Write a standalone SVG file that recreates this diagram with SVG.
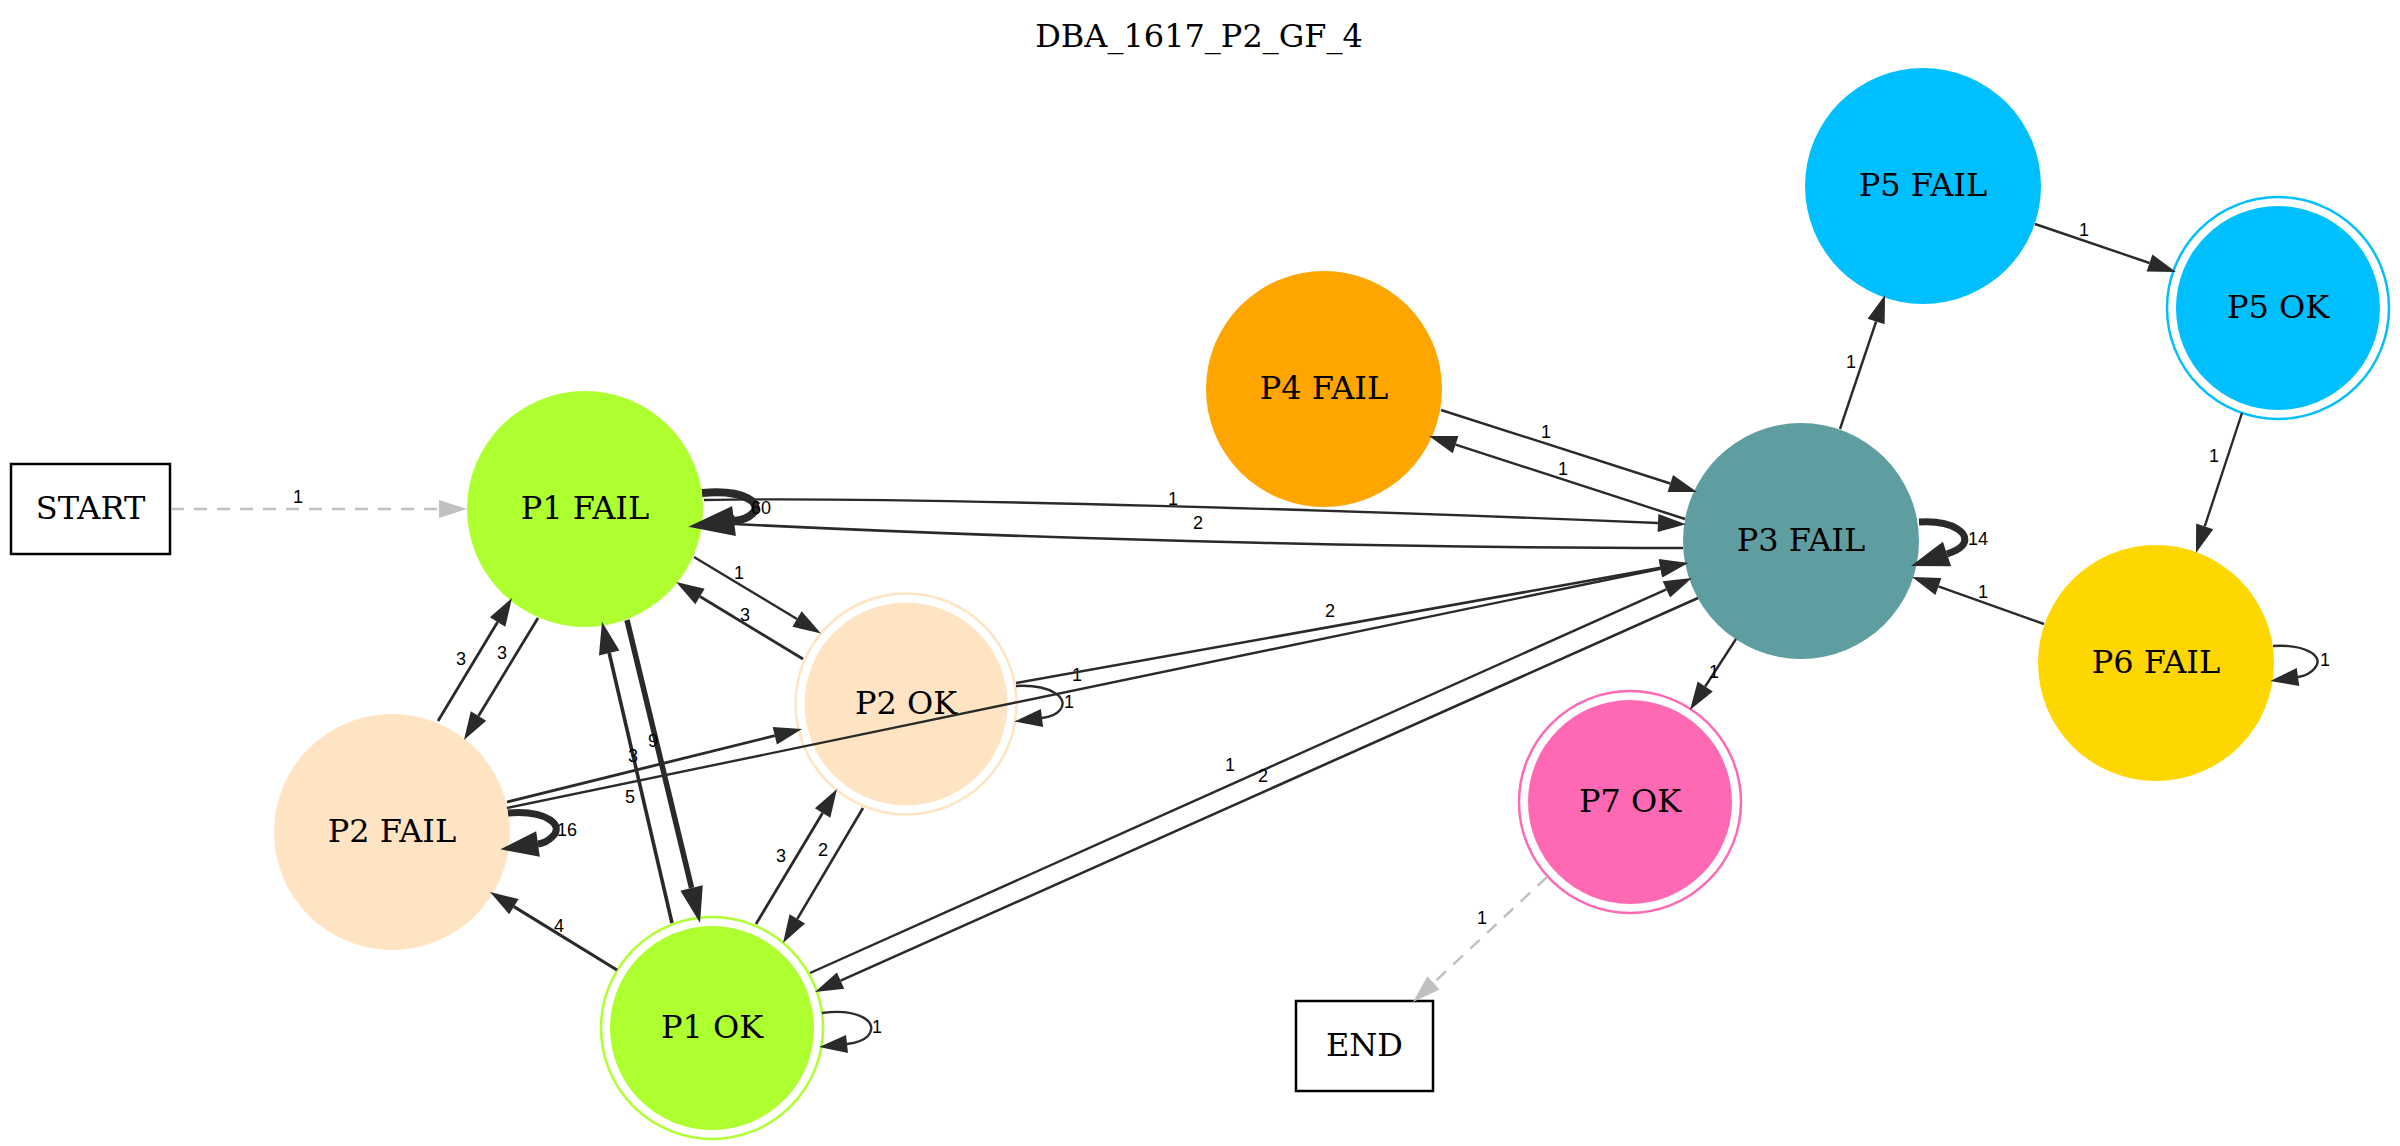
<svg xmlns="http://www.w3.org/2000/svg" width="2400" height="1146" viewBox="0 0 2400 1146">
<defs>
<style>
.nl{font-family:"DejaVu Serif","Liberation Serif",serif;font-size:32px;fill:#000;text-anchor:middle}
.el{font-family:"Liberation Sans","DejaVu Sans",sans-serif;font-size:18px;fill:#000;text-anchor:middle}
.e{fill:none;stroke:#2a2a2a;stroke-width:2.4}
.d{fill:none;stroke:#c0c0c0;stroke-width:2.4;stroke-dasharray:13,10}
.box{fill:#fff;stroke:#000;stroke-width:2.5}
</style>
<marker id="a" markerUnits="userSpaceOnUse" markerWidth="28" markerHeight="18" refX="0" refY="9" orient="auto" viewBox="0 0 28 18" overflow="visible"><path d="M0,0 L28,9 L0,18 z" fill="#2a2a2a"/></marker>
<marker id="g" markerUnits="userSpaceOnUse" markerWidth="28" markerHeight="18" refX="0" refY="9" orient="auto" viewBox="0 0 28 18" overflow="visible"><path d="M0,0 L28,9 L0,18 z" fill="#c0c0c0"/></marker>
<marker id="m5" markerUnits="userSpaceOnUse" markerWidth="32" markerHeight="21" refX="0" refY="10.5" orient="auto" viewBox="0 0 32 21" overflow="visible"><path d="M0,0 L32,10.5 L0,21 z" fill="#2a2a2a"/></marker>
<marker id="m" markerUnits="userSpaceOnUse" markerWidth="36" markerHeight="23" refX="0" refY="11.5" orient="auto" viewBox="0 0 36 23" overflow="visible"><path d="M0,0 L36,11.5 L0,23 z" fill="#2a2a2a"/></marker>
<marker id="b2" markerUnits="userSpaceOnUse" markerWidth="38" markerHeight="26" refX="0" refY="13" orient="auto" viewBox="0 0 38 26" overflow="visible"><path d="M0,0 L38,13 L0,26 z" fill="#2a2a2a"/></marker>
<marker id="b" markerUnits="userSpaceOnUse" markerWidth="46" markerHeight="30" refX="0" refY="15" orient="auto" viewBox="0 0 46 30" overflow="visible"><path d="M0,0 L46,15 L0,30 z" fill="#2a2a2a"/></marker>
</defs>
<rect width="2400" height="1146" fill="#fff"/>
<text x="1199" y="47" class="nl">DBA_1617_P2_GF_4</text>

<g id="node-start"><rect class="box" x="11" y="464" width="159" height="90"/><text class="nl" x="90.5" y="519">START</text></g>
<g id="node-end"><rect class="box" x="1296" y="1001" width="137" height="90"/><text class="nl" x="1364.5" y="1056">END</text></g>
<g id="node-p1fail"><circle cx="585" cy="509" r="118" fill="#adff2f"/><text class="nl" x="585" y="519">P1 FAIL</text></g>
<g id="node-p2fail"><circle cx="392" cy="832" r="118" fill="#ffe4c4"/><text class="nl" x="392" y="842">P2 FAIL</text></g>
<g id="node-p2ok"><circle cx="906" cy="704" r="110.5" fill="none" stroke="#ffe4c4" stroke-width="2.5"/><circle cx="906" cy="704" r="101.5" fill="#ffe4c4"/><text class="nl" x="906" y="714">P2 OK</text></g>
<g id="node-p1ok"><circle cx="712" cy="1028" r="111" fill="none" stroke="#adff2f" stroke-width="2.5"/><circle cx="712" cy="1028" r="102" fill="#adff2f"/><text class="nl" x="712" y="1038">P1 OK</text></g>
<g id="node-p4fail"><circle cx="1324" cy="389" r="118" fill="#ffa500"/><text class="nl" x="1324" y="399">P4 FAIL</text></g>
<g id="node-p3fail"><circle cx="1801" cy="541" r="118" fill="#5f9ea0"/><text class="nl" x="1801" y="551">P3 FAIL</text></g>
<g id="node-p5fail"><circle cx="1923" cy="186" r="118" fill="#00bfff"/><text class="nl" x="1923" y="196">P5 FAIL</text></g>
<g id="node-p5ok"><circle cx="2278" cy="308" r="111" fill="none" stroke="#00bfff" stroke-width="2.5"/><circle cx="2278" cy="308" r="102" fill="#00bfff"/><text class="nl" x="2278" y="318">P5 OK</text></g>
<g id="node-p6fail"><circle cx="2156" cy="663" r="118" fill="#ffd700"/><text class="nl" x="2156" y="673">P6 FAIL</text></g>
<g id="node-p7ok"><circle cx="1630" cy="802" r="111" fill="none" stroke="#ff69b4" stroke-width="2.5"/><circle cx="1630" cy="802" r="102" fill="#ff69b4"/><text class="nl" x="1630" y="812">P7 OK</text></g>

<g id="connectors">
<path class="d" d="M171,509 L439,509" marker-end="url(#g)"/><text class="el" x="298" y="503">1</text>
<path class="e" style="stroke-width:8" d="M702,493 C745,489 764,504 752,514 C748,518 742,520 734,521" marker-end="url(#b)"/><text class="el" x="761" y="514">60</text>
<path class="e" d="M704,500 C900,496 1400,512 1658,523" marker-end="url(#a)"/><text class="el" x="1173" y="505">1</text>
<path class="e" style="stroke-width:2.6" d="M1683,548 C1450,548 1100,542 734,524" marker-end="url(#a)"/><text class="el" x="1198" y="529">2</text>
<path class="e" d="M694,557 L797,619" marker-end="url(#a)"/><text class="el" x="739" y="579">1</text>
<path class="e" style="stroke-width:2.8" d="M803,659 L700,596.5" marker-end="url(#a)"/><text class="el" x="745" y="621">3</text>
<path class="e" style="stroke-width:2.8" d="M538,618 L478.5,716" marker-end="url(#a)"/><text class="el" x="502" y="659">3</text>
<path class="e" style="stroke-width:2.8" d="M438,721 L497.6,622" marker-end="url(#a)"/><text class="el" x="461" y="665">3</text>
<path class="e" style="stroke-width:5.5" d="M627,620 L691.6,888" marker-end="url(#m)"/><text class="el" x="653" y="747">9</text>
<path class="e" style="stroke-width:3.6" d="M672,923 L609.2,653" marker-end="url(#m5)"/><text class="el" x="630" y="803">5</text>
<path class="e" style="stroke-width:2.8" d="M507,802 L774.8,735.7" marker-end="url(#a)"/><text class="el" x="633" y="762">3</text>
<path class="e" d="M507,808 L1660.6,568.7" marker-end="url(#a)"/><text class="el" x="1077" y="681">1</text>
<path class="e" style="stroke-width:2.6" d="M1016,683 L1660.4,567.9" marker-end="url(#a)"/><text class="el" x="1330" y="617">2</text>
<path class="e" style="stroke-width:3.2" d="M617,970 L513.9,906.7" marker-end="url(#a)"/><text class="el" x="559" y="932">4</text>
<path class="e" style="stroke-width:2.8" d="M756,924 L822.6,813" marker-end="url(#a)"/><text class="el" x="781" y="862">3</text>
<path class="e" style="stroke-width:2.6" d="M863,808 L797.3,918.9" marker-end="url(#a)"/><text class="el" x="823" y="856">2</text>
<path class="e" d="M822,1013 C858,1008 880,1022 868,1036 C863,1041 856,1043 847,1044" marker-end="url(#a)"/><text class="el" x="877" y="1033">1</text>
<path class="e" style="stroke-width:7" d="M508,813 C548,810 565,826 552,837 C549,840 545,843 538,844" marker-end="url(#b2)"/><text class="el" x="567" y="836">16</text>
<path class="e" d="M1016,686 C1050,684 1070,698 1060,710 C1056,715 1050,717 1042,718" marker-end="url(#a)"/><text class="el" x="1069" y="708">1</text>
<path class="e" d="M810,973 L1666.4,589.4" marker-end="url(#a)"/><text class="el" x="1230" y="771">1</text>
<path class="e" style="stroke-width:2.6" d="M1698,598 L840.6,980.6" marker-end="url(#a)"/><text class="el" x="1263" y="782">2</text>
<path class="e" d="M1441,410 L1670.3,483.5" marker-end="url(#a)"/><text class="el" x="1546" y="438">1</text>
<path class="e" d="M1685,519 L1455.6,444.6" marker-end="url(#a)"/><text class="el" x="1563" y="475">1</text>
<path class="e" d="M1840,429 L1876.1,321.5" marker-end="url(#a)"/><text class="el" x="1851" y="368">1</text>
<path class="e" d="M2035,224 L2149.5,263" marker-end="url(#a)"/><text class="el" x="2084" y="236">1</text>
<path class="e" d="M2242,413 L2204.7,526.4" marker-end="url(#a)"/><text class="el" x="2214" y="462">1</text>
<path class="e" d="M2044,624 L1938.4,586.4" marker-end="url(#a)"/><text class="el" x="1983" y="598">1</text>
<path class="e" d="M2273,646 C2305,644 2325,656 2315,668 C2311,673 2305,676 2298,677" marker-end="url(#a)"/><text class="el" x="2325" y="666">1</text>
<path class="e" style="stroke-width:7" d="M1919,522 C1955,520 1972,535 1962,546 C1958,550 1953,552 1947,554" marker-end="url(#b2)"/><text class="el" x="1978" y="545">14</text>
<path class="e" d="M1736,639 L1705.2,686.5" marker-end="url(#a)"/><text class="el" x="1714" y="678">1</text>
<path class="d" d="M1547,877 L1433.5,982.9" marker-end="url(#g)"/><text class="el" x="1482" y="924">1</text>
</g>
</svg>
